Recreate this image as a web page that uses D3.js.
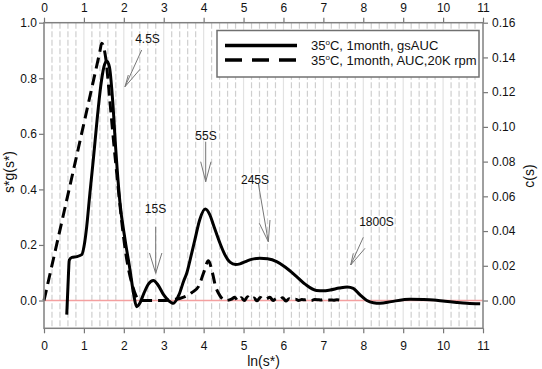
<!DOCTYPE html>
<html>
<head>
<meta charset="utf-8">
<script src="https://cdn.jsdelivr.net/npm/d3@7"></script>
<style>
  html, body { margin: 0; padding: 0; background: #fff; }
  svg { display: block; font-family: "Liberation Sans", Arial, sans-serif; }
</style>
</head>
<body>
<svg id="chart" width="542" height="369"></svg>
<script>
// ---------- data ----------
const xTicks = [0,1,2,3,4,5,6,7,8,9,10,11];
const leftTicks = [0.0,0.2,0.4,0.6,0.8,1.0];
const rightTicks = [0.00,0.02,0.04,0.06,0.08,0.10,0.12,0.14,0.16];

const seriesNames = ["35°C, 1month, gsAUC", "35°C, 1month, AUC,20K rpm"];

// solid: s*g(s*) (left axis)
const solidX = [0.57,0.60,0.635,0.70,0.82,0.945,1.02,1.07,1.15,1.235,1.33,1.42,1.50,1.57,1.64,1.72,1.80,1.905,2.03,2.155,2.25,2.32,2.40,2.50,2.62,2.74,2.86,3.00,3.12,3.24,3.38,3.50,3.58,3.70,3.78,3.90,4.04,4.15,4.25,4.41,4.55,4.66,4.80,4.91,5.05,5.20,5.41,5.60,5.83,6.05,6.33,6.55,6.83,7.00,7.17,7.40,7.60,7.75,7.92,8.09,8.25,8.42,8.70,9.00,9.17,9.50,9.76,10.05,10.34,10.60,10.93];
const solidY = [-0.051,0.05,0.146,0.155,0.158,0.165,0.21,0.266,0.386,0.506,0.65,0.77,0.84,0.862,0.84,0.72,0.54,0.35,0.22,0.11,0.02,-0.022,-0.01,0.025,0.06,0.072,0.055,0.02,0.0,-0.01,0.02,0.07,0.10,0.17,0.218,0.29,0.329,0.31,0.27,0.206,0.16,0.138,0.13,0.132,0.14,0.148,0.152,0.15,0.14,0.12,0.086,0.058,0.036,0.035,0.038,0.045,0.049,0.044,0.02,0.0,-0.008,-0.01,-0.004,0.003,0.005,0.004,0.002,-0.003,-0.007,-0.01,-0.012];

// dashed: c(s) (right axis)
const dashX = [0,1.40,1.446,1.55,1.65,1.75,1.85,1.95,2.05,2.20,2.30,2.40,2.60,2.80,3.00,3.20,3.40,3.55,3.70,3.87,4.00,4.12,4.22,4.30,4.37,4.45,4.55,
  4.70,4.78,4.86,4.94,5.02,5.10,5.18,5.26,5.34,5.42,5.50,5.58,5.66,5.74,5.82,5.90,5.98,6.06,6.14,6.22,6.30,6.38,6.46,6.54,6.62,6.70,6.78,6.86,6.94,7.02,7.10,7.18,7.26,7.34,7.40];
const dashY = [0,0.1434,0.1482,0.139,0.115,0.090,0.067,0.045,0.027,0.010,0.003,0.0,0.0,0.0,0.0,0.0005,0.0012,0.0024,0.0045,0.008,0.016,0.0229,0.016,0.008,0.0043,0.0014,0.0,
  0.0008,0.0019,-0.0003,0.0016,0.0,0.0021,0.0005,0.0014,-0.0002,0.0018,0.0006,0.001,0.0019,0.0,0.0011,0.0005,0.0016,-0.0003,0.001,0.0003,0.0008,0.0,0.0006,0.0004,0.0008,0.0,0.0006,0.0005,0.0003,0.0006,0.0002,0.0003,0.0002,0.0004,0.0003];

const annLabels = ["4.5S","15S","55S","245S","1800S"];

// ---------- layout ----------
const L = 44, R = 483, T = 22.7, B = 328.3;
const svg = d3.select("#chart");
const x = d3.scaleLinear().domain([0, 11]).range([L, R]);
const yL = d3.scaleLinear().domain([-0.1, 1.0]).range([B, T]);
const yR = d3.scaleLinear().domain([-0.016, 0.16]).range([B, T]);

// gridlines
const minor = d3.range(0, 11.001, 0.2).filter(v => Math.abs(v - Math.round(v)) > 1e-6 && v > 0 && v < 11);
svg.append("g").selectAll("line").data(minor).join("line")
  .attr("x1", d => x(d)).attr("x2", d => x(d)).attr("y1", T).attr("y2", B)
  .attr("stroke", "#cfcfcf").attr("stroke-width", 1.2).attr("stroke-dasharray", "6,2.5");
svg.append("g").selectAll("line").data(xTicks.slice(1, -1)).join("line")
  .attr("x1", d => x(d)).attr("x2", d => x(d)).attr("y1", T).attr("y2", B)
  .attr("stroke", "#e2e2e2").attr("stroke-width", 1.2);

// zero line
svg.append("line").attr("x1", L).attr("x2", R).attr("y1", yL(0)).attr("y2", yL(0))
  .attr("stroke", "#f4a0a0").attr("stroke-width", 1.5);

// legend box
const lg = svg.append("g");
lg.append("rect").attr("x", 217).attr("y", 30.5).attr("width", 262).attr("height", 46.5)
  .attr("fill", "#fff").attr("stroke", "#707070").attr("stroke-width", 1.5);
lg.append("line").attr("x1", 225).attr("x2", 297).attr("y1", 45.5).attr("y2", 45.5)
  .attr("stroke", "#000").attr("stroke-width", 3.5);
lg.append("line").attr("x1", 225).attr("x2", 297).attr("y1", 60).attr("y2", 60)
  .attr("stroke", "#000").attr("stroke-width", 3.5).attr("stroke-dasharray", "17,10");
[45.5, 60].forEach((yy, i) => {
  const t = lg.append("text").attr("x", 311).attr("y", yy + 4.5).attr("font-size", 13).attr("fill", "#111");
  t.append("tspan").text("35");
  t.append("tspan").attr("font-size", 8).attr("dy", -5).text("o");
  t.append("tspan").attr("dy", 5).text(seriesNames[i].replace("35°", ""));
});

// curves
const solidData = solidX.map((d, i) => [d, solidY[i]]);
const dashData = dashX.map((d, i) => [d, dashY[i]]);
svg.append("path").datum(solidData)
  .attr("d", d3.line().x(d => x(d[0])).y(d => yL(d[1])).curve(d3.curveMonotoneX))
  .attr("fill", "none").attr("stroke", "#000").attr("stroke-width", 3).attr("stroke-linejoin", "round");
svg.append("path").datum(dashData)
  .attr("d", d3.line().x(d => x(d[0])).y(d => yR(d[1])).curve(d3.curveMonotoneX))
  .attr("fill", "none").attr("stroke", "#000").attr("stroke-width", 3).attr("stroke-dasharray", "11,6");

// annotations
const annText = [[147.5, 39],[155.5, 209],[206, 136],[255, 180],[376.5, 221.7]];
const annLines = [
  [[141.7,50],[125,86.7],[128.3,75],[140,69.3]],
  [[155.7,226.7],[155.7,273.3],[149.5,253],[161.9,253]],
  [[205.7,141.7],[205.7,181.7],[200.7,161.7],[211,161.7]],
  [[258.3,183.3],[268.3,241.7],[259.3,223.3],[270,220]],
  [[363.3,237.3],[350.7,265],[353.3,253.3],[365,248.3]]
];
const ag = svg.append("g");
annLines.forEach((a, i) => {
  const [s, tip, a1, a2] = a;
  ag.append("path").attr("d", `M${s[0]},${s[1]}L${tip[0]},${tip[1]}M${a1[0]},${a1[1]}L${tip[0]},${tip[1]}L${a2[0]},${a2[1]}`)
    .attr("fill", "none").attr("stroke", "#777").attr("stroke-width", 1);
  ag.append("text").attr("x", annText[i][0]).attr("y", annText[i][1] + 4.3)
    .attr("text-anchor", "middle").attr("font-size", 12).attr("fill", "#111").text(annLabels[i]);
});

// axes
function styleAxis(g) {
  g.select(".domain").remove();
  g.selectAll(".tick line").attr("stroke", "#777").attr("stroke-width", 1.2);
  g.selectAll(".tick text").attr("font-size", 12).attr("fill", "#111")
    .attr("font-family", "'Liberation Sans', Arial, sans-serif");
}
svg.append("g").attr("transform", `translate(0,${B})`)
  .call(d3.axisBottom(x).tickValues(xTicks).tickFormat(d3.format("d")).tickSize(5).tickPadding(8)).call(styleAxis);
svg.append("g").attr("transform", `translate(0,${T})`)
  .call(d3.axisTop(x).tickValues(xTicks).tickFormat(d3.format("d")).tickSize(5).tickPadding(6)).call(styleAxis);
svg.append("g").attr("transform", `translate(${L},0)`)
  .call(d3.axisLeft(yL).tickValues(leftTicks).tickFormat(d3.format(".1f")).tickSize(5).tickPadding(2)).call(styleAxis);
svg.append("g").attr("transform", `translate(${R},0)`)
  .call(d3.axisRight(yR).tickValues(rightTicks).tickFormat(d3.format(".2f")).tickSize(5).tickPadding(4)).call(styleAxis);

// frame
svg.append("rect").attr("x", L).attr("y", T).attr("width", R - L).attr("height", B - T)
  .attr("fill", "none").attr("stroke", "#808080").attr("stroke-width", 1.5);

// axis titles
svg.append("text").attr("x", (L + R) / 2).attr("y", 366).attr("text-anchor", "middle")
  .attr("font-size", 14).attr("fill", "#111").text("ln(s*)");
svg.append("text").attr("transform", "translate(14,172) rotate(-90)").attr("text-anchor", "middle")
  .attr("font-size", 14).attr("fill", "#111").text("s*g(s*)");
svg.append("text").attr("transform", "translate(534,176) rotate(-90)").attr("text-anchor", "middle")
  .attr("font-size", 14).attr("fill", "#111").text("c(s)");
</script>
</body>
</html>
